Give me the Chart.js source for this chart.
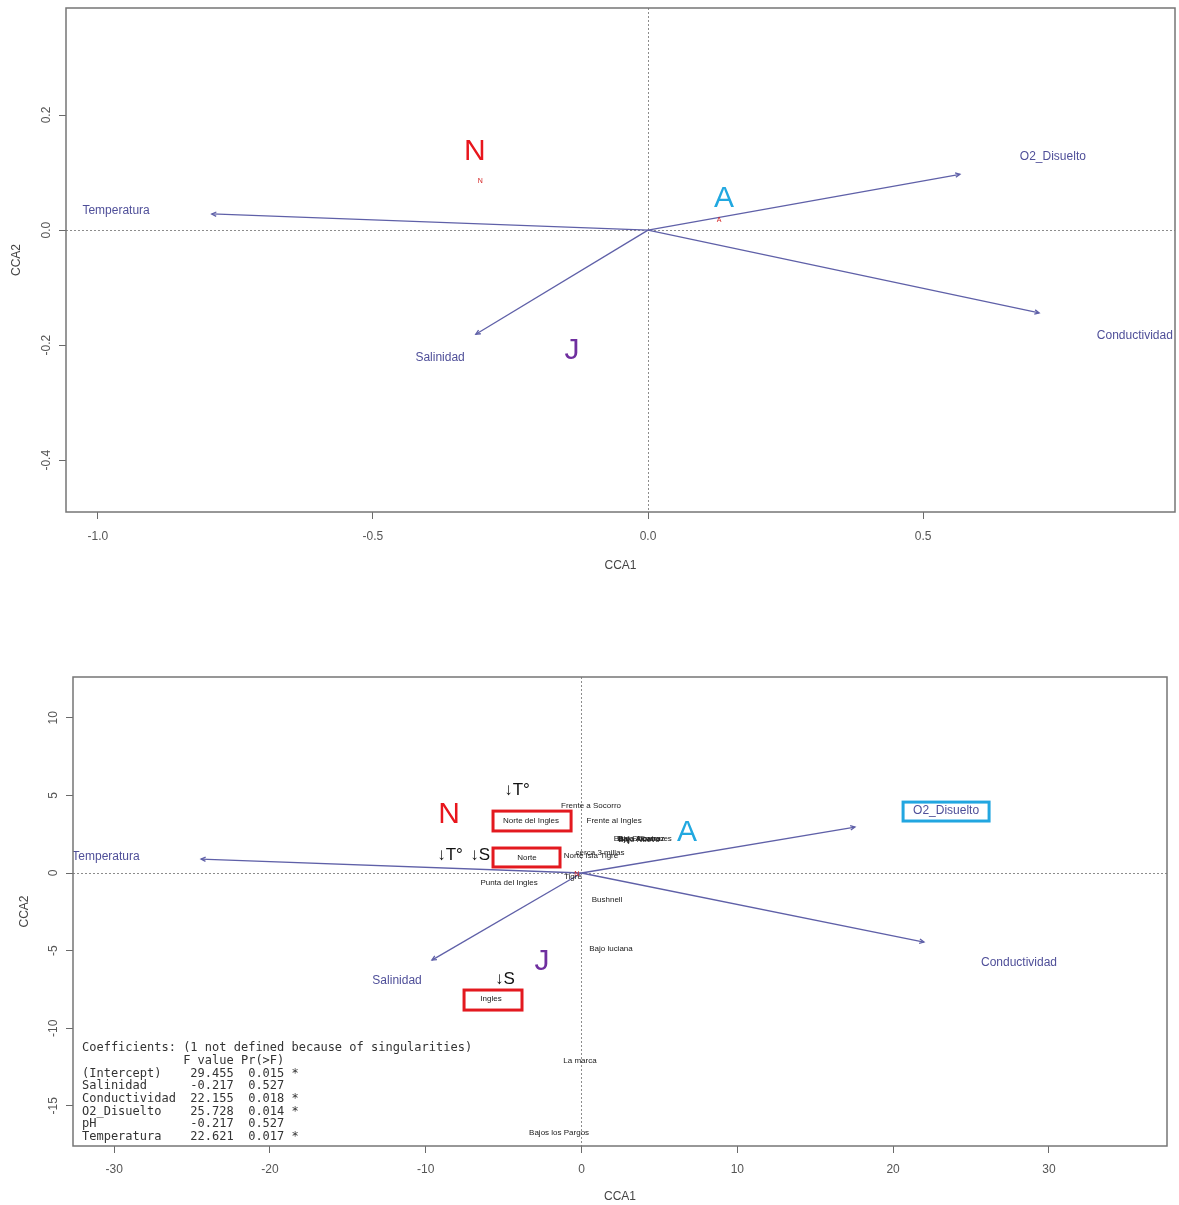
<!DOCTYPE html>
<html>
<head>
<meta charset="utf-8">
<script src="https://cdn.jsdelivr.net/npm/chart.js@4.4.1/dist/chart.umd.min.js"></script>
<style>
  html, body { margin: 0; padding: 0; background: #ffffff; }
  #wrap { position: relative; width: 1179px; height: 1205px; }
  canvas { position: absolute; left: 0; }
  #seasonChart { top: 0; }
  #siteChart { top: 600px; }
</style>
</head>
<body>
<div id="wrap">
  <canvas id="seasonChart" width="1179" height="600"></canvas>
  <canvas id="siteChart" width="1179" height="605"></canvas>
</div>
<script>
// ---------- shared names ----------
const envVars = ['Temperatura', 'Salinidad', 'O2_Disuelto', 'Conductividad'];
const groupNames = ['N', 'A', 'J'];

// ---------- CCA by season ----------
const envTipX1 = [-0.793, -0.313, 0.567, 0.711];
const envTipY1 = [0.028, -0.181, 0.097, -0.144];
const envLabX1 = [-0.967, -0.378, 0.736, 0.885];
const envLabY1 = [0.033, -0.221, 0.127, -0.183];
const groupX1 = [-0.315, 0.138, -0.138];
const groupY1 = [0.136, 0.054, -0.209];
const scoreNames1 = ['N', 'A'];
const scoreX1 = [-0.305, 0.129];
const scoreY1 = [0.085, 0.017];
const xTicks1 = [-1.0, -0.5, 0.0, 0.5];
const yTicks1 = [-0.4, -0.2, 0.0, 0.2];

// ---------- CCA by site ----------
const envTipX2 = [-24.42, -9.60, 17.55, 21.98];
const envTipY2 = [0.90, -5.61, 2.96, -4.45];
const envLabX2 = [-30.52, -11.84, 23.40, 28.08];
const envLabY2 = [1.03, -6.96, 3.99, -5.80];
const groupX2 = [-8.50, 6.77, -2.54];
const groupY2 = [3.74, 2.58, -5.73];
const siteNames = ['Frente a Socorro', 'Frente al Ingles', 'Norte del Ingles', 'Norte',
  'Norte Isla Tigre', 'cerca 3 millas', 'Bajo Socorro', 'Bajo Alcatraz', 'Bajo Nuevo',
  'Bajo Tiburones', 'Punta del Ingles', 'Tigre', 'Bushnell', 'Bajo luciana', 'Ingles',
  'La marca', 'Bajos los Pargos'];
const siteX = [0.61, 2.09, -3.24, -3.50, 0.61, 1.19, 3.56, 3.82, 3.69, 4.08, -4.65, -0.55,
  1.64, 1.89, -5.81, -0.10, -1.44];
const siteY = [4.32, 3.35, 3.35, 0.97, 1.10, 1.29, 2.19, 2.23, 2.15, 2.19, -0.64, -0.26,
  -1.74, -4.90, -8.12, -12.11, -16.75];
const xTicks2 = [-30, -20, -10, 0, 10, 20, 30];
const yTicks2 = [-15, -10, -5, 0, 5, 10];

// notes of decreasing temperature / salinity
const noteText = ['\u2193T\u00b0', '\u2193T\u00b0', '\u2193S', '\u2193S'];
const noteX = [-4.14, -8.44, -6.51, -4.91];
const noteY = [5.35, 1.16, 1.16, -6.83];

// ANOVA of the constraining variables
const coefTerms = ['(Intercept)', 'Salinidad', 'Conductividad', 'O2_Disuelto', 'pH', 'Temperatura'];
const coefF = [29.455, -0.217, 22.155, 25.728, -0.217, 22.621];
const coefP = [0.015, 0.527, 0.018, 0.014, 0.527, 0.017];
const coefSig = ['*', '', '*', '*', '', '*'];

// ---------- styling ----------
const FONT = "'Liberation Sans', Arial, Helvetica, sans-serif";
const MONO = "'DejaVu Sans Mono', 'Liberation Mono', monospace";
const VEC_LINE = '#5f60a8';
const VEC_TEXT = '#4f4f99';
const GROUP_COLORS = { N: '#e8161d', A: '#21a8e0', J: '#6f2f9f' };

function axis(dir, o) {
  return {
    type: 'linear',
    position: dir === 'x' ? 'bottom' : 'left',
    min: o.min,
    max: o.max,
    afterBuildTicks: s => { s.ticks = o.ticks.map(v => ({ value: v })); },
    afterFit: s => {
      if (dir === 'x') s.height = o.size; else s.width = o.size;
      s.paddingLeft = 0; s.paddingRight = 0; s.paddingTop = 0; s.paddingBottom = 0;
    },
    ticks: {
      callback: v => o.fmt(v),
      color: '#555555',
      font: { family: FONT, size: 12 },
      padding: o.tickPad,
      autoSkip: false,
      // vertical-axis labels read bottom to top
      minRotation: dir === 'y' ? 90 : 0,
      maxRotation: dir === 'y' ? 90 : 0,
      crossAlign: dir === 'y' ? 'center' : 'near'
    },
    grid: {
      drawOnChartArea: true,
      drawTicks: true,
      tickLength: 7,
      tickColor: '#6a6a6a',
      tickWidth: 1,
      lineWidth: 1,
      color: c => (c.tick && c.tick.value === 0) ? '#8c8c8c' : 'rgba(0,0,0,0)'
    },
    border: { display: false, dash: [2, 2] },
    title: {
      display: true,
      text: o.title,
      color: '#444444',
      font: { family: FONT, size: 12 },
      padding: o.titlePad
    }
  };
}

function vectorSets(tx, ty) {
  return envVars.map((name, i) => ({
    label: name,
    data: [{ x: 0, y: 0 }, { x: tx[i], y: ty[i] }],
    showLine: true,
    borderColor: VEC_LINE,
    borderWidth: 1.3,
    pointRadius: 0,
    pointHoverRadius: 0
  }));
}

function overlay(cfg) {
  return {
    id: 'overlay_' + cfg.name,
    afterDatasetsDraw(chart) {
      const { ctx, chartArea: a } = chart;
      const sx = chart.scales.x, sy = chart.scales.y;
      const X = v => sx.getPixelForValue(v);
      const Y = v => sy.getPixelForValue(v);
      ctx.save();
      // arrow heads at the tip of each vector
      chart.data.datasets.forEach((ds, i) => {
        const pts = chart.getDatasetMeta(i).data;
        if (pts.length < 2) return;
        const p0 = pts[0], p1 = pts[pts.length - 1];
        const ang = Math.atan2(p1.y - p0.y, p1.x - p0.x);
        const L = 5, w = Math.PI / 7;
        ctx.strokeStyle = ds.borderColor;
        ctx.lineWidth = 1.3;
        ctx.beginPath();
        ctx.moveTo(p1.x - L * Math.cos(ang - w), p1.y - L * Math.sin(ang - w));
        ctx.lineTo(p1.x, p1.y);
        ctx.lineTo(p1.x - L * Math.cos(ang + w), p1.y - L * Math.sin(ang + w));
        ctx.stroke();
      });
      // text inside the plotting region
      ctx.beginPath();
      ctx.rect(a.left, a.top, a.width, a.height);
      ctx.clip();
      ctx.textAlign = 'center';
      ctx.textBaseline = 'middle';
      cfg.texts.forEach(t => {
        ctx.font = t.font;
        ctx.fillStyle = t.color;
        ctx.fillText(t.text, X(t.x), Y(t.y));
      });
      (cfg.boxes || []).forEach(b => {
        ctx.strokeStyle = b.color;
        ctx.lineWidth = 3;
        ctx.strokeRect(X(b.x0), Y(b.y1), X(b.x1) - X(b.x0), Y(b.y0) - Y(b.y1));
      });
      if (cfg.table) {
        ctx.font = '12px ' + MONO;
        ctx.fillStyle = '#333333';
        ctx.textAlign = 'left';
        cfg.table.forEach((line, k) => {
          ctx.fillText(line, a.left + 9, a.bottom - 98 + k * 12.7);
        });
      }
      ctx.restore();
    },
    afterDraw(chart) {
      const { ctx, chartArea: a } = chart;
      ctx.save();
      ctx.strokeStyle = '#767676';
      ctx.lineWidth = 1.5;
      ctx.strokeRect(a.left, a.top, a.width, a.height);
      ctx.restore();
    }
  };
}

function textItems(names, xs, ys, font, color) {
  return names.map((n, i) => ({
    text: n, x: xs[i], y: ys[i], font: font,
    color: typeof color === 'function' ? color(n) : color
  }));
}

const baseOptions = {
  responsive: false,
  animation: false,
  events: [],
  plugins: { legend: { display: false }, tooltip: { enabled: false } }
};

// ---------- season biplot ----------
const fmt1 = v => v.toFixed(1);
new Chart(document.getElementById('seasonChart'), {
  type: 'scatter',
  data: { datasets: vectorSets(envTipX1, envTipY1) },
  options: Object.assign({}, baseOptions, {
    layout: { autoPadding: false, padding: { left: 0, top: 8, right: 4, bottom: 0 } },
    scales: {
      x: axis('x', { min: -1.058, max: 0.958, ticks: xTicks1, fmt: fmt1, size: 88, tickPad: 10,
        title: 'CCA1', titlePad: { top: 0, bottom: 27 } }),
      y: axis('y', { min: -0.490, max: 0.386, ticks: yTicks1, fmt: fmt1, size: 66, tickPad: 2,
        title: 'CCA2', titlePad: { top: 9, bottom: 0 } })
    }
  }),
  plugins: [overlay({
    name: 'season',
    texts: [].concat(
      textItems(envVars, envLabX1, envLabY1, '12px ' + FONT, VEC_TEXT),
      textItems(scoreNames1, scoreX1, scoreY1, '7px ' + FONT, '#d42020'),
      textItems(groupNames, groupX1, groupY1, '30px ' + FONT, n => GROUP_COLORS[n])
    )
  })]
});

// ---------- site biplot ----------
const fmt0 = v => String(Math.round(v));
const coefLines = ['Coefficients: (1 not defined because of singularities)',
  ' '.repeat(14) + 'F value Pr(>F)'].concat(coefTerms.map((t, i) =>
    t.padEnd(13) + ' ' + coefF[i].toFixed(3).padStart(7) + ' ' +
    coefP[i].toFixed(3).padStart(6) + ' ' + coefSig[i]));

new Chart(document.getElementById('siteChart'), {
  type: 'scatter',
  data: { datasets: vectorSets(envTipX2, envTipY2) },
  options: Object.assign({}, baseOptions, {
    layout: { autoPadding: false, padding: { left: 0, top: 77, right: 12, bottom: 0 } },
    scales: {
      x: axis('x', { min: -32.64, max: 37.58, ticks: xTicks2, fmt: fmt0, size: 59, tickPad: 9,
        title: 'CCA1', titlePad: { top: 0, bottom: 1 } }),
      y: axis('y', { min: -17.59, max: 12.63, ticks: yTicks2, fmt: fmt0, size: 73, tickPad: 4,
        title: 'CCA2', titlePad: { top: 17, bottom: 0 } })
    }
  }),
  plugins: [overlay({
    name: 'site',
    texts: [].concat(
      textItems(envVars, envLabX2, envLabY2, '12px ' + FONT, VEC_TEXT),
      textItems(siteNames, siteX, siteY, '8px ' + FONT, '#1a1a1a'),
      textItems(['N'], [-0.30], [-0.05], '7px ' + FONT, '#d42020'),
      textItems(groupNames, groupX2, groupY2, '30px ' + FONT, n => GROUP_COLORS[n]),
      textItems(noteText, noteX, noteY, '17px ' + FONT, '#111111')
    ),
    boxes: [
      { x0: -5.68, x1: -0.67, y0: 2.71, y1: 3.99, color: '#e3191f' },
      { x0: -5.68, x1: -1.38, y0: 0.39, y1: 1.61, color: '#e3191f' },
      { x0: -7.54, x1: -3.82, y0: -8.83, y1: -7.54, color: '#e3191f' },
      { x0: 20.64, x1: 26.16, y0: 3.35, y1: 4.57, color: '#22a6e0' }
    ],
    table: coefLines
  })]
});
</script>
</body>
</html>
